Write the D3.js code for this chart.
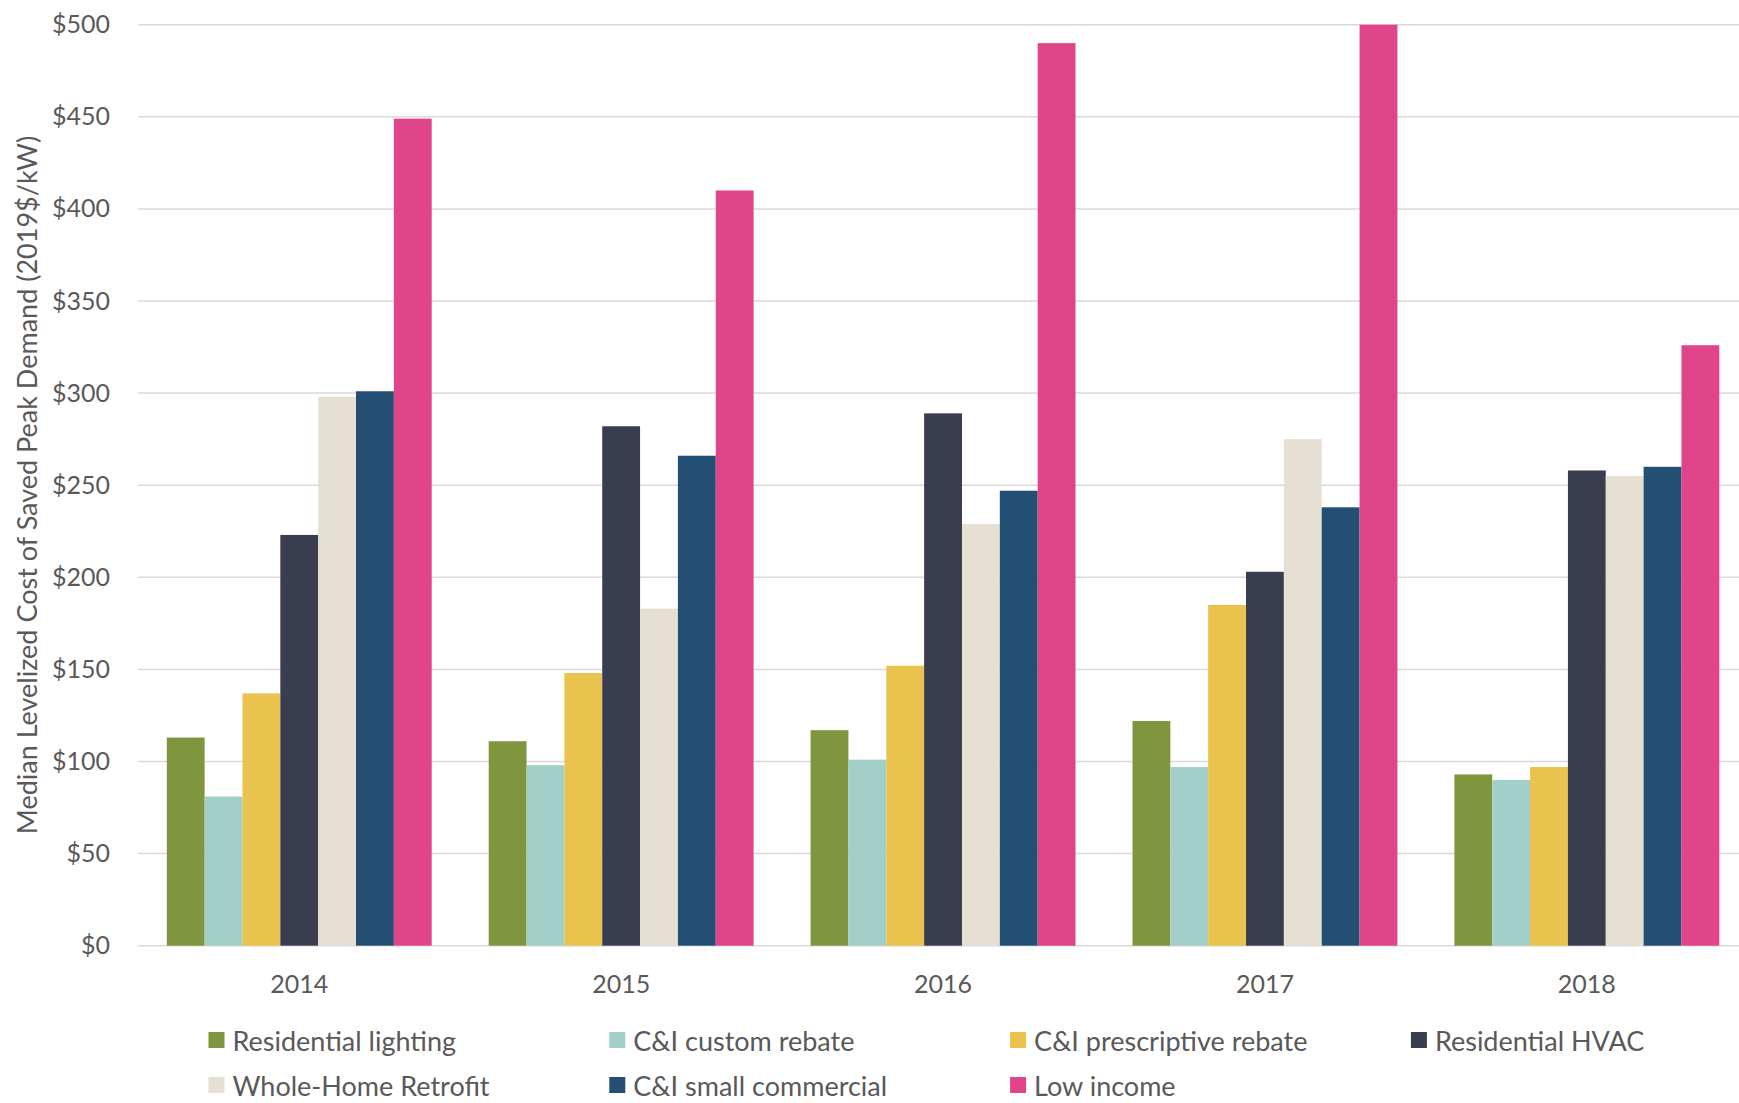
<!DOCTYPE html>
<html>
<head>
<meta charset="utf-8">
<script src="https://cdn.jsdelivr.net/npm/d3@7"></script>
<style>
  body { margin: 0; background: #fff; }
  text { font-family: Lato, "Open Sans", sans-serif; fill: #595959; }
</style>
</head>
<body>
<svg id="chart" width="1739" height="1103"></svg>
<script>
// categories and series
var years = ["2014", "2015", "2016", "2017", "2018"];
var seriesNames = ["Residential lighting", "C&I custom rebate", "C&I prescriptive rebate",
  "Residential HVAC", "Whole-Home Retrofit", "C&I small commercial", "Low income"];
var seriesColors = ["#7F963F", "#A3CFC9", "#EAC24E", "#3A3D50", "#E6DFD4", "#234F75", "#E14589"];

// values per series, one per year
var residentialLighting = [113, 111, 117, 122, 93];
var ciCustomRebate = [81, 98, 101, 97, 90];
var ciPrescriptiveRebate = [137, 148, 152, 185, 97];
var residentialHVAC = [223, 282, 289, 203, 258];
var wholeHomeRetrofit = [298, 183, 229, 275, 255];
var ciSmallCommercial = [301, 266, 247, 238, 260];
var lowIncome = [449, 410, 490, 500, 326];

var yTicks = [0, 50, 100, 150, 200, 250, 300, 350, 400, 450, 500];

var values = [residentialLighting, ciCustomRebate, ciPrescriptiveRebate,
  residentialHVAC, wholeHomeRetrofit, ciSmallCommercial, lowIncome];

var svg = d3.select("#chart");
var W = 1739;

var x0 = d3.scaleBand().domain(years).range([138.3, 1747.8])
  .paddingInner(0.177).paddingOuter(0.0885);
var x1 = d3.scaleBand().domain(d3.range(seriesNames.length)).range([0, x0.bandwidth()]);
var y = d3.scaleLinear().domain([0, 500]).range([945.7, 24.7]);

// gridlines
svg.append("g").selectAll("line").data(yTicks).join("line")
  .attr("x1", 138).attr("x2", W)
  .attr("y1", function(d) { return y(d); })
  .attr("y2", function(d) { return y(d); })
  .attr("stroke", "#D9D9D9").attr("stroke-width", 1.5);

// y axis labels
var yAxis = d3.axisLeft(y).tickValues(yTicks).tickSize(0).tickPadding(0)
  .tickFormat(function(d) { return "$" + d; });
var gy = svg.append("g").attr("transform", "translate(110,0)").call(yAxis);
gy.select(".domain").remove();
gy.selectAll("text").attr("font-size", 25).attr("fill", "#595959")
  .style("font-family", "Lato, sans-serif");

// bars
var groups = svg.append("g").selectAll("g").data(years).join("g")
  .attr("transform", function(d) { return "translate(" + x0(d) + ",0)"; });
groups.selectAll("rect")
  .data(function(d, i) { return values.map(function(s, j) { return {s: j, v: s[i]}; }); })
  .join("rect")
  .attr("x", function(d) { return x1(d.s); })
  .attr("width", x1.bandwidth())
  .attr("y", function(d) { return y(d.v); })
  .attr("height", function(d) { return y(0) - y(d.v); })
  .attr("fill", function(d) { return seriesColors[d.s]; });

// x axis labels
var xAxis = d3.axisBottom(x0).tickSize(0).tickPadding(0);
var gx = svg.append("g").attr("transform", "translate(0,975)").call(xAxis);
gx.select(".domain").remove();
gx.selectAll("text").attr("font-size", 25).attr("fill", "#595959")
  .style("font-family", "Lato, sans-serif");

// y axis title
svg.append("text")
  .attr("transform", "translate(26,485) rotate(-90)")
  .attr("text-anchor", "middle").attr("dominant-baseline", "central")
  .attr("font-size", 27)
  .text("Median Levelized Cost of Saved Peak Demand (2019$/kW)");

// legend, 4 per row
var legend = svg.append("g").selectAll("g").data(seriesNames).join("g")
  .attr("transform", function(d, i) {
    return "translate(" + (208.5 + (i % 4) * 400.8) + "," + (i < 4 ? 1040 : 1085) + ")";
  });
legend.append("rect").attr("x", 0).attr("y", -8).attr("width", 16).attr("height", 16)
  .attr("fill", function(d, i) { return seriesColors[i]; });
legend.append("text").attr("x", 24).attr("dominant-baseline", "central")
  .attr("font-size", 27).text(function(d) { return d; });
</script>
</body>
</html>
